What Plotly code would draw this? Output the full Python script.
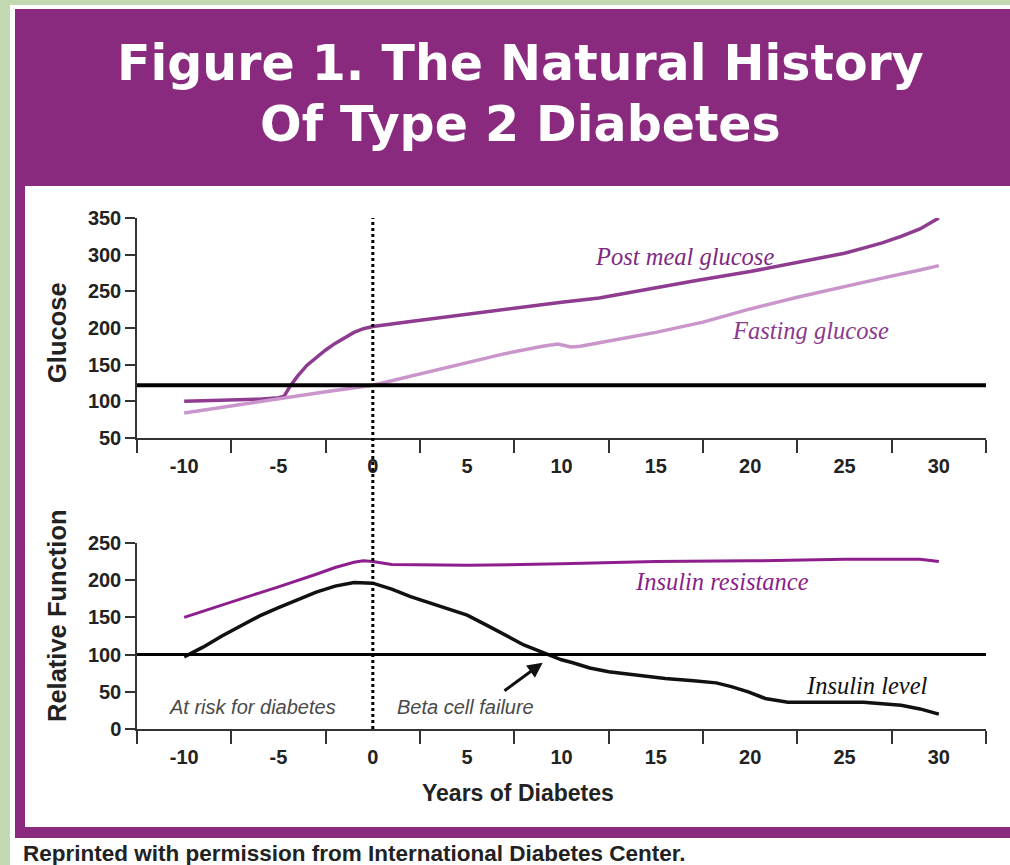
import plotly.graph_objects as go

# ---------------- data ----------------
POST_MEAL_YEARS = [-10, -8, -6, -5, -4.7, -4.4, -4, -3.5, -3, -2.5, -2, -1.5, -1, -0.5, 0,
                   2, 5, 7, 10, 12, 15, 17, 20, 22.5, 25, 26, 27, 28, 29, 30]
POST_MEAL_GLUCOSE = [100, 101, 103, 105, 107, 120, 134, 149, 160, 170, 179, 187, 194, 199, 202,
                     209, 219, 226, 235, 241, 255, 264, 277, 290, 302, 309, 316, 325, 335, 350]

FASTING_YEARS = [-10, -7.5, -5, -2.5, 0, 2.5, 5, 7, 9, 9.8, 10.5, 11, 12, 15, 17.5, 20,
                 22.5, 25, 27, 29, 30]
FASTING_GLUCOSE = [84, 94, 104, 113, 122, 137, 153, 165, 175, 178, 174, 175, 180, 194, 208, 226,
                   242, 257, 268, 279, 285]

RESIST_YEARS = [-10, -8, -6, -5, -4, -3, -2, -1, -0.5, 0, 1, 5, 10, 12, 15, 20, 25, 29, 30]
INSULIN_RESISTANCE = [150, 167, 183, 191, 199, 208, 217, 224, 226, 225, 221, 220, 222, 223, 225,
                      226, 228, 228, 225]

LEVEL_YEARS = [-10, -9, -8, -7, -6, -5, -4, -3, -2, -1, 0, 1, 2, 3, 4, 5, 6, 7, 8, 9, 9.5, 10,
               10.6, 11.5, 12.5, 14, 15.5, 17, 18.2, 19, 19.9, 20.8, 22, 26, 28, 29, 30]
INSULIN_LEVEL = [97, 110, 125, 139, 152, 163, 174, 184, 192, 197, 196, 188, 178, 170, 161, 153,
                 140, 126, 113, 103, 98, 93, 89, 82, 77, 72, 68, 65, 62, 57, 50, 41, 36, 36, 32,
                 27, 20]

GLUCOSE_THRESHOLD = 122
FUNCTION_THRESHOLD = 100

YEAR_TICKS = [-10, -5, 0, 5, 10, 15, 20, 25, 30]
YEAR_TICK_LABELS = ["-10", "-5", "0", "5", "10", "15", "20", "25", "30"]
YEAR_MINOR_TICKS = [-12.5, -7.5, -2.5, 2.5, 7.5, 12.5, 17.5, 22.5, 27.5, 32.5]
GLUCOSE_TICKS = [50, 100, 150, 200, 250, 300, 350]
FUNCTION_TICKS = [0, 50, 100, 150, 200, 250]

# ---------------- layout helpers ----------------
W, H = 1010, 865
def px(x):
    return x / W
def py(y):
    return 1 - y / H

XDOM = [px(137), px(986)]
Y1DOM = [py(438), py(218)]
Y2DOM = [py(729), py(543)]

PURPLE = "#8A2A7E"
AXIS_COL = "#333333"
TICKFONT = dict(family="Liberation Sans, Arial, sans-serif", size=20, color="#222222", weight="bold")

fig = go.Figure()

fig.add_trace(go.Scatter(x=POST_MEAL_YEARS, y=POST_MEAL_GLUCOSE, mode="lines",
                         line=dict(color="#8E3B90", width=3.5), xaxis="x", yaxis="y",
                         name="Post meal glucose"))
fig.add_trace(go.Scatter(x=FASTING_YEARS, y=FASTING_GLUCOSE, mode="lines",
                         line=dict(color="#C995CB", width=3.5), xaxis="x", yaxis="y",
                         name="Fasting glucose"))
fig.add_trace(go.Scatter(x=RESIST_YEARS, y=INSULIN_RESISTANCE, mode="lines",
                         line=dict(color="#8E1E8E", width=3), xaxis="x2", yaxis="y2",
                         name="Insulin resistance"))
fig.add_trace(go.Scatter(x=LEVEL_YEARS, y=INSULIN_LEVEL, mode="lines",
                         line=dict(color="#111111", width=3.5), xaxis="x2", yaxis="y2",
                         name="Insulin level"))

def xaxis_cfg(anchor):
    return dict(domain=XDOM, range=[-12.5, 32.5], anchor=anchor, automargin=False,
                tickmode="array", tickvals=YEAR_TICKS, ticktext=YEAR_TICK_LABELS,
                ticks="outside", ticklen=9, tickcolor="rgba(0,0,0,0)",
                showline=True, linecolor=AXIS_COL, linewidth=1.5,
                showgrid=False, zeroline=False, tickfont=TICKFONT,
                minor=dict(tickmode="array", tickvals=YEAR_MINOR_TICKS, ticks="outside",
                           ticklen=13, tickwidth=2, tickcolor=AXIS_COL, showgrid=False))

def yaxis_cfg(anchor, dom, rng, tv):
    return dict(domain=dom, range=rng, anchor=anchor, automargin=False,
                tickmode="array", tickvals=tv,
                ticks="outside", ticklen=10, tickwidth=1.5, tickcolor=AXIS_COL,
                showline=True, linecolor=AXIS_COL, linewidth=1.5,
                showgrid=False, zeroline=False, tickfont=TICKFONT)

shapes = [
    # white outline + purple frame + white panel
    dict(type="rect", xref="paper", yref="paper", x0=px(10), x1=1.0, y0=0, y1=py(5),
         fillcolor="white", line=dict(width=0), layer="below"),
    dict(type="rect", xref="paper", yref="paper", x0=px(15), x1=1.0, y0=py(838), y1=py(9),
         fillcolor=PURPLE, line=dict(width=0), layer="below"),
    dict(type="rect", xref="paper", yref="paper", x0=px(25), x1=1.0, y0=py(827), y1=py(186),
         fillcolor="white", line=dict(width=0), layer="below"),
    # threshold lines
    dict(type="line", xref="x domain", yref="y", x0=0, x1=1, y0=GLUCOSE_THRESHOLD,
         y1=GLUCOSE_THRESHOLD, line=dict(color="#000000", width=4)),
    dict(type="line", xref="x2 domain", yref="y2", x0=0, x1=1, y0=FUNCTION_THRESHOLD,
         y1=FUNCTION_THRESHOLD, line=dict(color="#000000", width=3)),
    # diagnosis line at year 0 spanning both panels
    dict(type="line", xref="x", yref="paper", x0=0, x1=0, y0=Y2DOM[0], y1=Y1DOM[1],
         line=dict(color="#000000", width=3, dash="dot")),
]

serif_it = dict(family="Liberation Serif, Times New Roman, serif", size=24.5, style="italic")
sans_it = dict(family="Liberation Sans, Arial, sans-serif", size=20, style="italic", color="#4a4a4a")
title_font = dict(family="DejaVu Sans, sans-serif", size=49, color="white", weight="bold")
axis_title_font = dict(family="Liberation Sans, Arial, sans-serif", size=25.5, color="#222222",
                       weight="bold")

annotations = [
    dict(text="Figure 1. The Natural History", xref="paper", yref="paper", x=px(520), y=py(64),
         showarrow=False, font=title_font, xanchor="center", yanchor="middle"),
    dict(text="Of Type 2 Diabetes", xref="paper", yref="paper", x=px(520), y=py(124),
         showarrow=False, font=title_font, xanchor="center", yanchor="middle"),
    dict(text="Glucose", xref="paper", yref="paper", x=px(57), y=py(333), textangle=-90,
         showarrow=False, font=axis_title_font, xanchor="center", yanchor="middle"),
    dict(text="Relative Function", xref="paper", yref="paper", x=px(57), y=py(616),
         textangle=-90, showarrow=False, font=axis_title_font, xanchor="center",
         yanchor="middle"),
    dict(text="Years of Diabetes", xref="paper", yref="paper", x=px(518), y=py(793),
         showarrow=False, font=dict(axis_title_font, size=23), xanchor="center",
         yanchor="middle"),
    dict(text="Reprinted with permission from International Diabetes Center.", xref="paper",
         yref="paper", x=px(21), y=py(853), showarrow=False, xanchor="left", yanchor="middle",
         font=dict(family="Liberation Sans, Arial, sans-serif", size=22.5, color="#222222",
                   weight="bold")),
    dict(text="Post meal glucose", xref="x", yref="y", x=16.5, y=298, showarrow=False,
         font=dict(serif_it, color="#7E2A82")),
    dict(text="Fasting glucose", xref="x", yref="y", x=23.2, y=197, showarrow=False,
         font=dict(serif_it, color="#8A3A8E")),
    dict(text="Insulin resistance", xref="x2", yref="y2", x=18.5, y=198, showarrow=False,
         font=dict(serif_it, color="#8A1F8C")),
    dict(text="Insulin level", xref="x2", yref="y2", x=26.2, y=58, showarrow=False,
         font=dict(serif_it, color="#111111")),
    dict(text="At risk for diabetes", xref="x2", yref="y2", x=-6.4, y=30, showarrow=False,
         font=sans_it),
    dict(text="Beta cell failure", xref="x2", yref="y2", x=4.9, y=30, showarrow=False,
         font=sans_it),
    dict(text="", xref="x2", yref="y2", x=9.0, y=89, ax=6.9, ay=50, axref="x2", ayref="y2",
         showarrow=True, arrowhead=2, arrowsize=1, arrowwidth=3, arrowcolor="#111111"),
]

fig.update_layout(
    width=W, height=H, margin=dict(l=0, r=0, t=0, b=0, pad=0, autoexpand=False),
    paper_bgcolor="#C3D9B1", plot_bgcolor="rgba(0,0,0,0)",
    showlegend=False,
    xaxis=xaxis_cfg("y"),
    yaxis=yaxis_cfg("x", Y1DOM, [50, 350], GLUCOSE_TICKS),
    xaxis2=xaxis_cfg("y2"),
    yaxis2=yaxis_cfg("x2", Y2DOM, [0, 250], FUNCTION_TICKS),
    shapes=shapes, annotations=annotations,
)

fig.write_html("out.html", config={"displayModeBar": False},
               post_script="document.body.style.margin='0';document.body.style.overflow='hidden';")
